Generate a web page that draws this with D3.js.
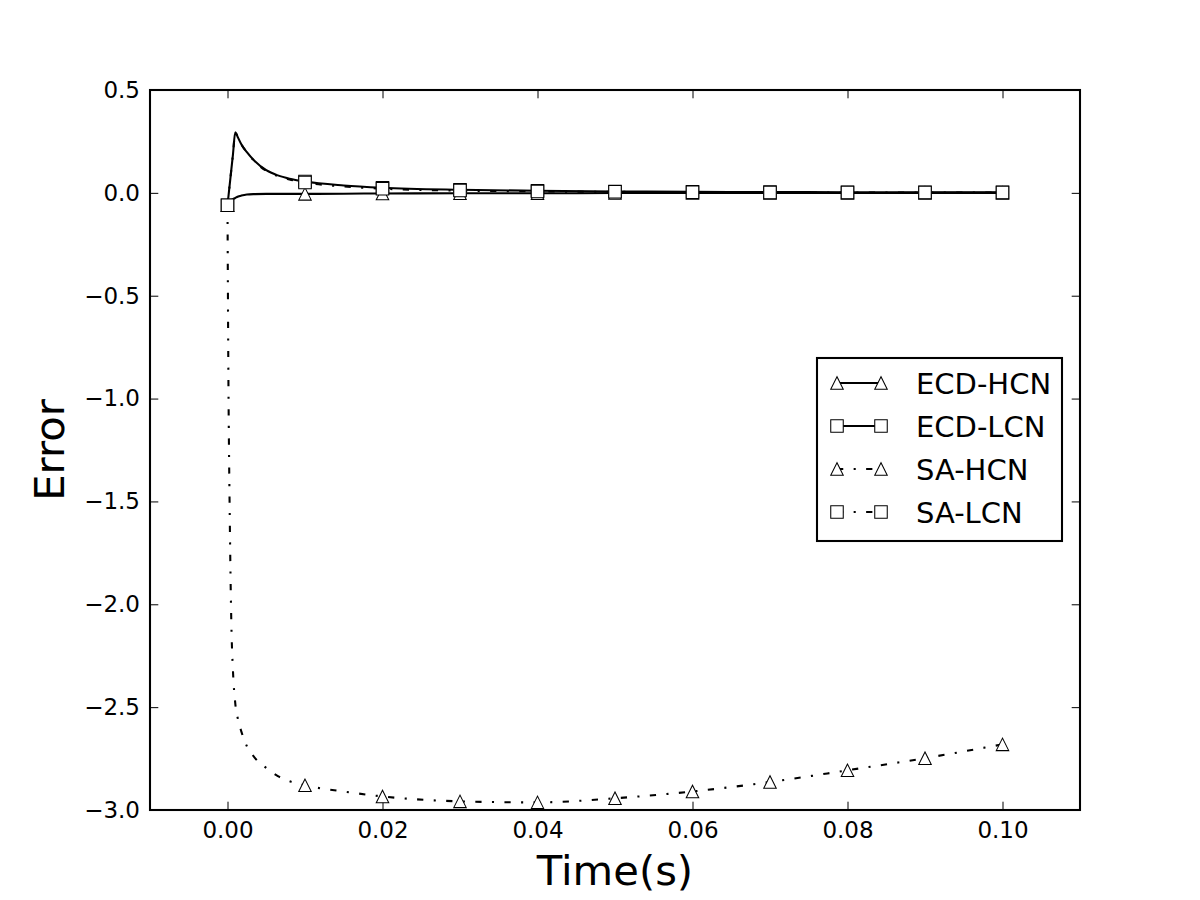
<!DOCTYPE html>
<html>
<head>
<meta charset="utf-8">
<script src="https://cdn.jsdelivr.net/npm/d3@7"></script>
<style>
  body { margin: 0; background: #fff; }
  text { font-family: "DejaVu Sans", sans-serif; fill: #000; }
</style>
</head>
<body>
<script>
// time grid (s), shared by all four series
var time = [0, 0.0001, 0.0003, 0.0005, 0.0007, 0.001, 0.0013, 0.0018, 0.0025, 0.0035, 0.005, 0.0065, 0.008,
            0.01, 0.015, 0.02, 0.03, 0.04, 0.05, 0.06, 0.07, 0.08, 0.09, 0.1];

var ecdHcn = [-0.06, -0.052, -0.042, -0.035, -0.03, -0.025, -0.019, -0.013, -0.008, -0.006, -0.005, -0.005, -0.005,
              -0.005, -0.004, -0.003, -0.002, -0.002, -0.001, -0.001, -0.001, -0.001, 0.0, 0.0];
var ecdLcn = [-0.06, -0.025, 0.045, 0.115, 0.185, 0.294, 0.273, 0.235, 0.198, 0.155, 0.11, 0.085, 0.069,
              0.055, 0.036, 0.025, 0.015, 0.01, 0.007, 0.005, 0.004, 0.003, 0.003, 0.003];
var saHcn = [-0.06, -0.8, -1.6, -2.1, -2.32, -2.48, -2.55, -2.62, -2.69, -2.745, -2.795, -2.835, -2.86,
             -2.88, -2.91, -2.934, -2.958, -2.963, -2.943, -2.91, -2.864, -2.807, -2.748, -2.681];
var saLcn = [-0.06, -0.025, 0.045, 0.115, 0.185, 0.294, 0.273, 0.235, 0.197, 0.153, 0.107, 0.081, 0.065,
             0.05, 0.031, 0.02, 0.011, 0.007, 0.005, 0.003, 0.002, 0.002, 0.002, 0.002];

var seriesNames = ["ECD-HCN", "ECD-LCN", "SA-HCN", "SA-LCN"];
var seriesValues = [ecdHcn, ecdLcn, saHcn, saLcn];
var seriesMarker = ["triangle", "square", "triangle", "square"];
var seriesDash = [null, null, "6.25 10.4 2.08 10.4", "6.25 10.4 2.08 10.4"];

var xTicks = [0.00, 0.02, 0.04, 0.06, 0.08, 0.10];
var yTicks = [0.5, 0.0, -0.5, -1.0, -1.5, -2.0, -2.5, -3.0];

var W = 1200, H = 900;
var pLeft = 150, pRight = 1080, pTop = 90, pBottom = 810;

var svg = d3.select("body").append("svg").attr("width", W).attr("height", H);

var x = d3.scaleLinear().domain([-0.01, 0.11]).range([pLeft, pRight]);
var y = d3.scaleLinear().domain([-3.0, 0.5]).range([pBottom, pTop]);

var minus = function (s) { return s.replace("-", "\u2212"); };

// ticks, inside on all four sides
var tickLen = 8.3;
var axB = svg.append("g").attr("transform", "translate(0," + pBottom + ")")
  .call(d3.axisBottom(x).tickValues(xTicks).tickSizeInner(-tickLen).tickSizeOuter(0).tickPadding(12)
        .tickFormat(function (d) { return minus(d3.format(".2f")(d)); }));
var axT = svg.append("g").attr("transform", "translate(0," + pTop + ")")
  .call(d3.axisTop(x).tickValues(xTicks).tickSizeInner(-tickLen).tickSizeOuter(0).tickFormat(""));
var axL = svg.append("g").attr("transform", "translate(" + pLeft + ",0)")
  .call(d3.axisLeft(y).tickValues(yTicks).tickSizeInner(-tickLen).tickSizeOuter(0).tickPadding(10)
        .tickFormat(function (d) { return minus(d3.format(".1f")(d)); }));
var axR = svg.append("g").attr("transform", "translate(" + pRight + ",0)")
  .call(d3.axisRight(y).tickValues(yTicks).tickSizeInner(-tickLen).tickSizeOuter(0).tickFormat(""));

[axB, axT, axL, axR].forEach(function (a) {
  a.select(".domain").remove();
  a.selectAll(".tick line").attr("stroke", "#000").attr("stroke-width", 1);
  a.selectAll(".tick text").style("font-family", "DejaVu Sans").style("font-size", "23px").attr("fill", "#000");
});

var plot = svg.append("g");
plot.append("clipPath").attr("id", "clip").append("rect")
  .attr("x", pLeft).attr("y", pTop).attr("width", pRight - pLeft).attr("height", pBottom - pTop);

var line = d3.line()
  .x(function (d) { return x(d[0]); })
  .y(function (d) { return y(d[1]); })
  .curve(d3.curveMonotoneX);

var tri = "M0,-6.25L-6.25,6.25L6.25,6.25Z";
var sq = "M-6.25,-6.25L6.25,-6.25L6.25,6.25L-6.25,6.25Z";

function drawMarker(g, kind, cx, cy) {
  g.append("path")
    .attr("d", kind === "triangle" ? tri : sq)
    .attr("transform", "translate(" + cx + "," + cy + ")")
    .attr("fill", "#fff").attr("stroke", "#000").attr("stroke-width", 1.04);
}

for (var s = 0; s < seriesValues.length; s++) {
  var pts = time.map(function (t, i) { return [t, seriesValues[s][i]]; });
  var g = plot.append("g");
  g.append("path")
    .attr("d", line(pts))
    .attr("clip-path", "url(#clip)")
    .attr("fill", "none").attr("stroke", "#000").attr("stroke-width", 2.08)
    .attr("stroke-dasharray", seriesDash[s]);
  pts.forEach(function (p) {
    var k = p[0] / 0.01;
    if (Math.abs(k - Math.round(k)) < 1e-6) drawMarker(g, seriesMarker[s], x(p[0]), y(p[1]));
  });
}

// frame
svg.append("rect").attr("x", pLeft).attr("y", pTop).attr("width", pRight - pLeft).attr("height", pBottom - pTop)
  .attr("fill", "none").attr("stroke", "#000").attr("stroke-width", 2.08);

// axis labels
svg.append("text").attr("x", (pLeft + pRight) / 2).attr("y", 885).attr("text-anchor", "middle")
  .style("font-size", "41.7px").text("Time(s)");
svg.append("text").attr("transform", "translate(64," + ((pTop + pBottom) / 2) + ") rotate(-90)")
  .attr("text-anchor", "middle").style("font-size", "41.7px").text("Error");

// legend
var lg = svg.append("g");
lg.append("rect").attr("x", 817).attr("y", 358).attr("width", 245).attr("height", 183)
  .attr("fill", "#fff").attr("stroke", "#000").attr("stroke-width", 2.08);
seriesNames.forEach(function (name, i) {
  var cy = 383 + i * 43;
  lg.append("line").attr("x1", 837).attr("x2", 881).attr("y1", cy).attr("y2", cy)
    .attr("stroke", "#000").attr("stroke-width", 2.08).attr("stroke-dasharray", seriesDash[i]);
  drawMarker(lg, seriesMarker[i], 837, cy);
  drawMarker(lg, seriesMarker[i], 881, cy);
  lg.append("text").attr("x", 916).attr("y", cy + 10.5).style("font-size", "29px").text(name);
});
</script>
</body>
</html>
